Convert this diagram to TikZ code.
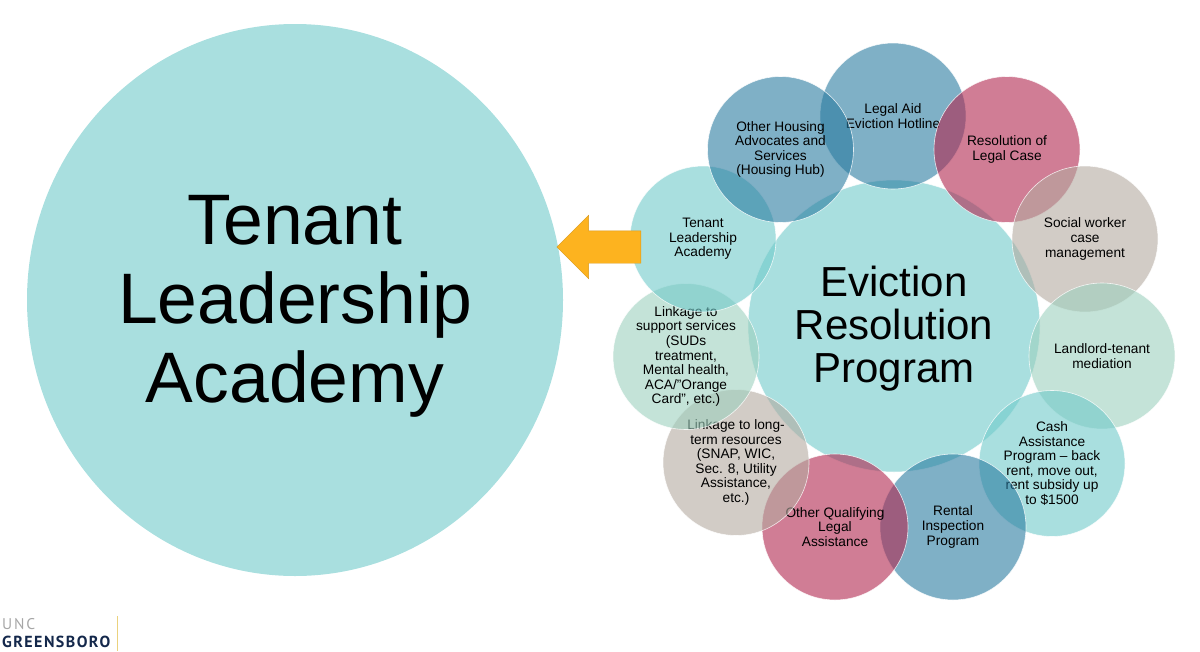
\documentclass[tikz,border=0pt]{standalone}
\usepackage{fontspec}
\setmainfont{Liberation Sans}
\newfontfamily\logofont[LetterSpace=9]{PT Sans}
\newfontfamily\uncfont[LetterSpace=12]{PT Sans}
\usetikzlibrary{shapes.geometric,shapes.arrows}
\definecolor{ringteal}{RGB}{112,202,202}
\definecolor{ringblue}{RGB}{42,123,160}
\definecolor{ringrose}{RGB}{177,38,78}
\definecolor{ringtaupe}{RGB}{180,170,160}
\definecolor{ringgreen}{RGB}{157,208,190}
\definecolor{arroworange}{RGB}{253,179,31}
\definecolor{logonavy}{RGB}{20,40,75}
\definecolor{logogold}{RGB}{235,210,125}

\begin{document}
\begin{tikzpicture}[x=1pt,y=-1pt,
 r/.style={circle,draw=white,line width=0.6pt,fill opacity=0.6,draw opacity=0.8,text opacity=1,minimum size=146pt,inner sep=0pt,align=center,font=\fontsize{13.7}{14.6}\selectfont}]
\useasboundingbox (0,0) rectangle (1200,651);
\node[ellipse,fill=ringteal,fill opacity=0.6,minimum width=536pt,minimum height=552pt,inner sep=0pt] (tla) at (295,300) {};
\node[align=center,font=\fontsize{71.5}{79}\selectfont] (tlatext) at (295,306) {Tenant\\Leadership\\Academy};
\node[r,fill=ringteal,minimum size=292pt] (erp) at (894,326) {};
\node[align=center,font=\fontsize{42}{43}\selectfont] (erptext) at (894,329) {Eviction\\Resolution\\Program};
\node[r,fill=ringblue] (hotline) at (893,116) {Legal Aid\\Eviction Hotline};
\node[r,fill=ringrose] (legalcase) at (1007,149.5) {Resolution of\\Legal Case};
\node[r,fill=ringtaupe] (social) at (1085,239) {Social worker\\case\\management};
\node[r,fill=ringgreen] (mediation) at (1102,356) {Landlord-tenant\\mediation};
\node[r,fill=ringteal] (cash) at (1052,463.5) {Cash\\Assistance\\Program -- back\\rent, move out,\\rent subsidy up\\to \$1500};
\node[r,fill=ringblue] (inspection) at (953,527) {Rental\\Inspection\\Program};
\node[r,fill=ringrose] (qualifying) at (835,527) {Other Qualifying\\Legal\\Assistance};
\node[r,fill=ringtaupe] (longterm) at (736,462.5) {Linkage to long-\\term resources\\(SNAP, WIC,\\Sec. 8, Utility\\Assistance,\\etc.)};
\node[r,fill=ringgreen] (support) at (686,356.5) {Linkage to\\support services\\(SUDs\\treatment,\\Mental health,\\ACA/"Orange\\Card", etc.)};
\node[r,fill=ringteal] (academy) at (703,239) {Tenant\\Leadership\\Academy};
\node[r,fill=ringblue] (housing) at (780.5,149.5) {Other Housing\\Advocates and\\Services\\(Housing Hub)};
\node[single arrow,shape border rotate=180,draw=arroworange!85!black,line width=0.4pt,fill=arroworange,inner sep=0pt,text width=0pt,text height=32pt,text depth=0pt,minimum width=63pt,minimum height=84pt,single arrow head extend=15.5pt] (toacademy) at (607,247) {};
\node[anchor=base west,inner sep=0pt,text=black!35,font=\uncfont\fontsize{15.5}{15.5}\selectfont] (unc) at (2,629.5) {UNC};
\node[anchor=base west,inner sep=0pt,text=logonavy,font=\logofont\bfseries\fontsize{16}{16}\selectfont] (uncg) at (2,647.5) {GREENSBORO};
\coordinate (bartop) at (117.5,616);
\coordinate (barend) at (117.5,651);
\draw[logogold,line width=1pt] (bartop)--(barend);
\end{tikzpicture}
\end{document}
